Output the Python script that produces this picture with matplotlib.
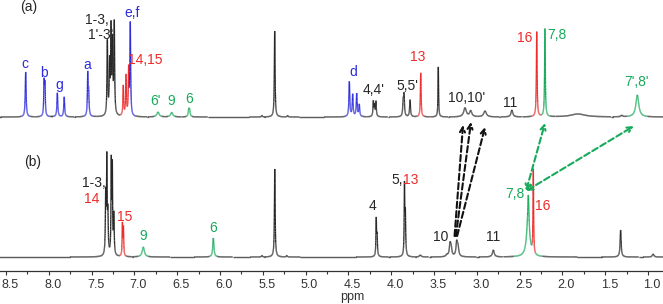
import numpy as np
import matplotlib
matplotlib.use("Agg")
import matplotlib.pyplot as plt
from matplotlib.collections import LineCollection
from matplotlib.ticker import MultipleLocator, FormatStrFormatter
from matplotlib.transforms import ScaledTranslation

plt.rcParams['font.family'] = ['Liberation Sans', 'DejaVu Sans']

# peak lists: shift (ppm), height (px), half width (ppm), group
a_ppm = [8.27, 8.055, 8.045, 7.90, 7.82, 7.545, 7.535,
         7.316, 7.29, 7.273, 7.255, 7.235, 7.13, 7.098, 7.067, 7.048,
         6.724, 6.564, 6.365, 6.355, 5.51, 5.361, 5.21,
         4.489, 4.45, 4.403, 4.373, 4.209, 4.195, 4.178, 3.86, 3.85, 3.78,
         3.655, 3.45, 3.138, 3.071, 2.904, 2.59, 2.30, 2.204, 1.818, 1.307, 1.125]
a_height = [45, 33, 30, 24, 20, 40, 22,
            74, 50, 85, 70, 91, 30, 40, 45, 92,
            5, 4.5, 7, 6, 1.5, 86, 1.5,
            35, 22, 23, 12, 15, 11, 15, 14, 21, 17,
            44, 50, 9, 6, 6, 7, 85, 88, 3, 1.5, 22]
a_width = [0.006, 0.005, 0.005, 0.006, 0.006, 0.005, 0.006,
           0.005, 0.005, 0.005, 0.005, 0.005, 0.005, 0.005, 0.005, 0.005,
           0.015, 0.015, 0.007, 0.007, 0.005, 0.005, 0.005,
           0.006, 0.006, 0.006, 0.006, 0.005, 0.005, 0.005, 0.006, 0.006, 0.006,
           0.005, 0.004, 0.018, 0.015, 0.018, 0.012, 0.005, 0.005, 0.1, 0.01, 0.02]
a_group = ['blue'] * 7 + ['black'] * 5 + ['red'] * 3 + ['blue'] + \
          ['green'] * 4 + ['black'] * 3 + ['blue'] * 4 + ['black'] * 6 + \
          ['red', 'black', 'black', 'black', 'black', 'black', 'red', 'green',
           'black', 'black', 'green']

b_ppm = [7.335, 7.322, 7.31, 7.27, 7.258, 7.24, 7.14, 7.128, 6.896, 6.078,
         5.51, 5.36, 5.22, 4.175, 4.165, 3.845, 3.835, 3.66, 3.35,
         3.313, 3.30, 3.235, 3.22, 2.807, 2.40, 2.398, 2.34, 1.32, 0.94]
b_height = [60, 91, 40, 91, 85, 40, 32, 28, 10, 19,
            1.5, 88, 1.5, 36, 20, 68, 40, 2, 2,
            12, 8, 14, 9, 7, 40, 22, 84, 27, 3]
b_width = [0.005, 0.004, 0.005, 0.004, 0.004, 0.005, 0.004, 0.004, 0.015, 0.008,
           0.005, 0.005, 0.005, 0.004, 0.005, 0.004, 0.005, 0.01, 0.01,
           0.01, 0.01, 0.01, 0.01, 0.012, 0.02, 0.006, 0.004, 0.007, 0.01]
b_group = ['black'] * 6 + ['red', 'red', 'green', 'green'] + ['black'] * 13 + \
          ['black', 'green', 'green', 'red', 'black', 'black']

palette = {'black': '#262626', 'blue': '#2b2bdc', 'red': '#ee2a2a', 'green': '#17aa5a'}


def spectrum_lines(ax, ppm, height, width, group, base):
    x = np.linspace(8.6, 0.8, 14000)
    parts = {}
    for p, h, w, g in zip(ppm, height, width, group):
        parts.setdefault(g, np.zeros_like(x))
        parts[g] += h / (1 + ((x - p) / w) ** 2)
    names = list(parts)
    stack = np.vstack([parts[n] for n in names])
    y = base + stack.sum(axis=0)
    idx = stack.argmax(axis=0)
    cols = [palette[names[i]] if stack[i, k] > 0.6 else palette['black']
            for k, i in enumerate(idx)]
    pts = np.column_stack([x, y]).reshape(-1, 1, 2)
    segs = np.concatenate([pts[:-1], pts[1:]], axis=1)
    lc = LineCollection(segs, colors=cols[:-1], linewidths=0.95)
    ax.add_collection(lc)


fig = plt.figure(figsize=(6.63, 3.04), dpi=100)
ax = fig.add_axes([0, 33 / 304, 1, 271 / 304])
ax.set_xlim(8.57, 0.825)
ax.set_ylim(0, 271)

spectrum_lines(ax, a_ppm, a_height, a_width, a_group, 154)
spectrum_lines(ax, b_ppm, b_height, b_width, b_group, 14)

for s in ['left', 'right', 'top']:
    ax.spines[s].set_visible(False)
ax.spines['bottom'].set_color('#333333')
ax.spines['bottom'].set_linewidth(0.9)
ax.set_yticks([])
ax.xaxis.set_major_locator(MultipleLocator(0.5))
ax.xaxis.set_minor_locator(MultipleLocator(0.25))
ax.xaxis.set_major_formatter(FormatStrFormatter('%.1f'))
ax.tick_params(axis='x', which='major', direction='out', length=3, width=0.8,
               labelsize=9, pad=3, colors='#333333')
ax.tick_params(axis='x', which='minor', direction='out', length=2, width=0.8,
               colors='#333333')
# labels sit a few pixels right of their ticks in the original
shift = ScaledTranslation(4 / 100, 0, fig.dpi_scale_trans)
for t in ax.get_xticklabels():
    t.set_transform(t.get_transform() + shift)
ax.text(4.458, -26, 'ppm', ha='center', va='center', fontsize=9, color='#333333')

fs = 10
def lab(x, y, s, c='black', **kw):
    ax.text(x, y, s, color=palette[c], fontsize=fs, ha=kw.pop('ha', 'center'),
            va='center', **kw)

# spectrum (a)
lab(8.231, 264, '(a)')
lab(8.278, 207, 'c', 'blue')
lab(8.056, 198, 'b', 'blue')
lab(7.881, 186, 'g', 'blue')
lab(7.554, 206, 'a', 'blue')
lab(7.437, 251, '1-3,')
lab(7.390, 236, "1'-3'")
lab(7.028, 258, 'e,f', 'blue')
lab(6.876, 211, '14,15', 'red')
lab(6.759, 170, "6'", 'green')
lab(6.572, 170, '9', 'green')
lab(6.362, 172, '6', 'green')
lab(4.446, 199, 'd', 'blue')
lab(4.201, 181, "4,4'")
lab(3.815, 185, "5,5'")
lab(3.687, 214, '13', 'red')
lab(3.115, 173, "10,10'")
lab(2.612, 168, '11')
lab(2.437, 233, '16', 'red')
lab(2.063, 236, '7,8', 'green')
lab(1.129, 189, "7',8'", 'green')

# spectrum (b)
lab(8.185, 109, '(b)')
lab(7.472, 88, '1-3,')
lab(7.495, 72, '14', 'red')
lab(7.110, 54, '15', 'red')
lab(6.900, 35, '9', 'green')
lab(6.082, 43, '6', 'green')
lab(4.213, 65, '4')
lab(3.862, 91, '5,', ha='right')
lab(3.862, 91, '13', 'red', ha='left')
lab(3.418, 34, '10')
lab(2.811, 34, '11')
lab(2.554, 77, '7,8', 'green')
lab(2.227, 65, '16', 'red')

# arrows
for sx, tx, ty in [(3.26, 3.161, 146), (3.245, 3.068, 149), (3.23, 2.904, 144)]:
    ax.annotate('', xy=(tx, ty), xytext=(sx, 35),
                arrowprops=dict(arrowstyle='->', color='#111111', lw=1.5,
                                ls=(0, (3, 1.5)), shrinkA=0, shrinkB=0,
                                mutation_scale=9))
for tx, ty in [(2.203, 148), (1.164, 145)]:
    ax.annotate('', xy=(tx, ty), xytext=(2.425, 80),
                arrowprops=dict(arrowstyle='<->', color=palette['green'], lw=1.5,
                                ls=(0, (3, 1.5)), shrinkA=0, shrinkB=0,
                                mutation_scale=9))

fig.savefig('out.png', dpi=100)
